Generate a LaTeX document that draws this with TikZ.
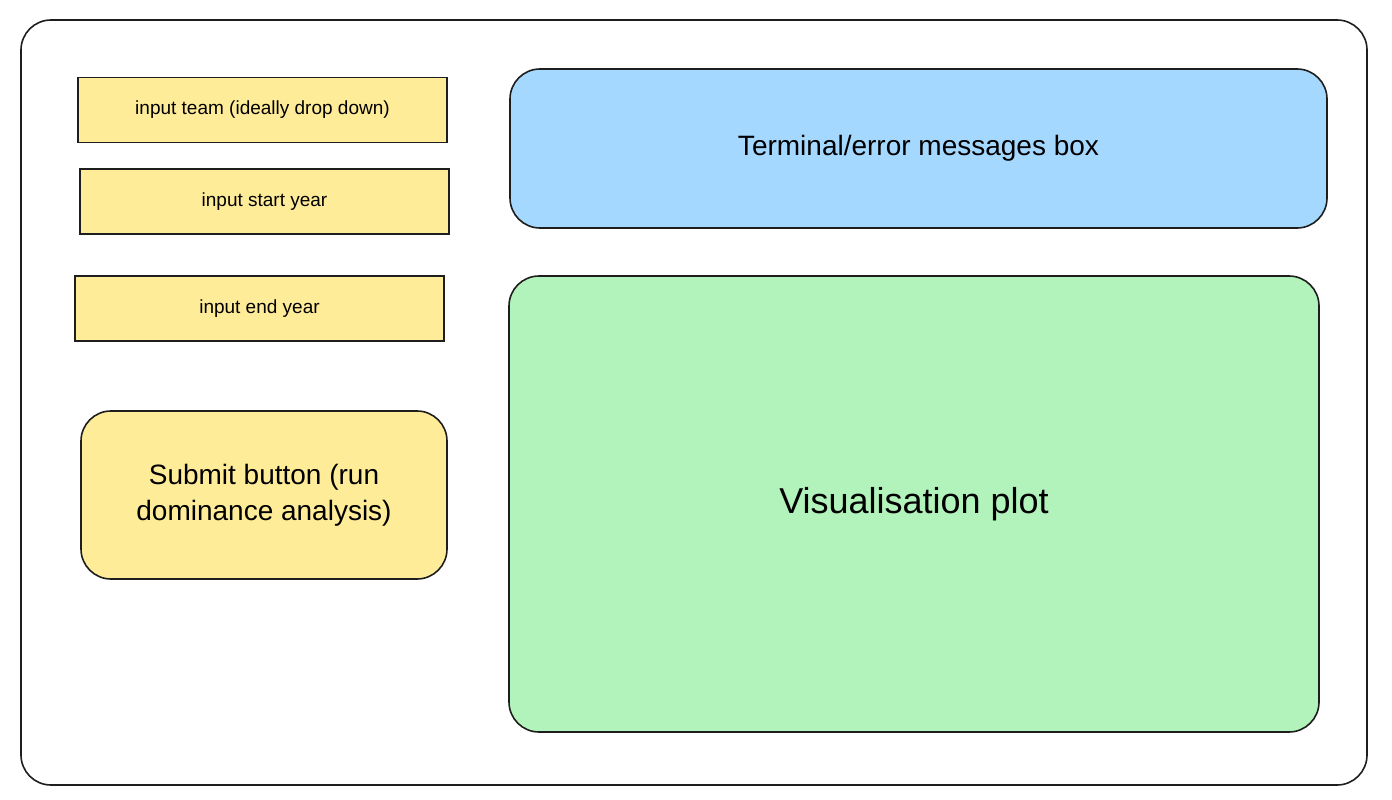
\documentclass[tikz,border=0pt]{standalone}
\usepackage{fontspec}
\setmainfont{Liberation Sans}
\begin{document}
\begin{tikzpicture}[x=1pt,y=-1pt]
\definecolor{strokecolor}{RGB}{30,30,30}
\definecolor{inputcolor}{RGB}{255,236,153}
\definecolor{termcolor}{RGB}{165,216,255}
\definecolor{plotcolor}{RGB}{178,242,187}
\tikzstyle{frame}=[draw=strokecolor,line width=1.6pt]
\tikzstyle{field}=[frame,fill=inputcolor,minimum width=369pt,minimum height=65pt,inner sep=0pt,font=\fontsize{19}{22}\selectfont]
\tikzstyle{panel}=[frame,rounded corners=30pt,inner sep=0pt,align=center]
\useasboundingbox (0,0) rectangle (1392,800);
\node[frame,rounded corners=30pt,minimum width=1346pt,minimum height=765pt] (window) at (694,402.5) {};
\node[field] (team) at (262.5,110) {input team (ideally drop down)};
\node[field] (start) at (264.5,201.5) {input start year};
\node[field] (end) at (259.5,308.5) {input end year};
\node[panel,fill=inputcolor,minimum width=366pt,minimum height=168pt,font=\fontsize{28}{36}\selectfont] (submit) at (264,495) {Submit button (run\\dominance analysis)};
\node[panel,fill=termcolor,minimum width=817pt,minimum height=159pt,font=\fontsize{28}{32}\selectfont] (terminal) at (918.5,148.5) {Terminal/error messages box};
\node[panel,fill=plotcolor,minimum width=810pt,minimum height=456pt,font=\fontsize{36}{42}\selectfont] (plot) at (914,504) {Visualisation plot};
\end{tikzpicture}
\end{document}
